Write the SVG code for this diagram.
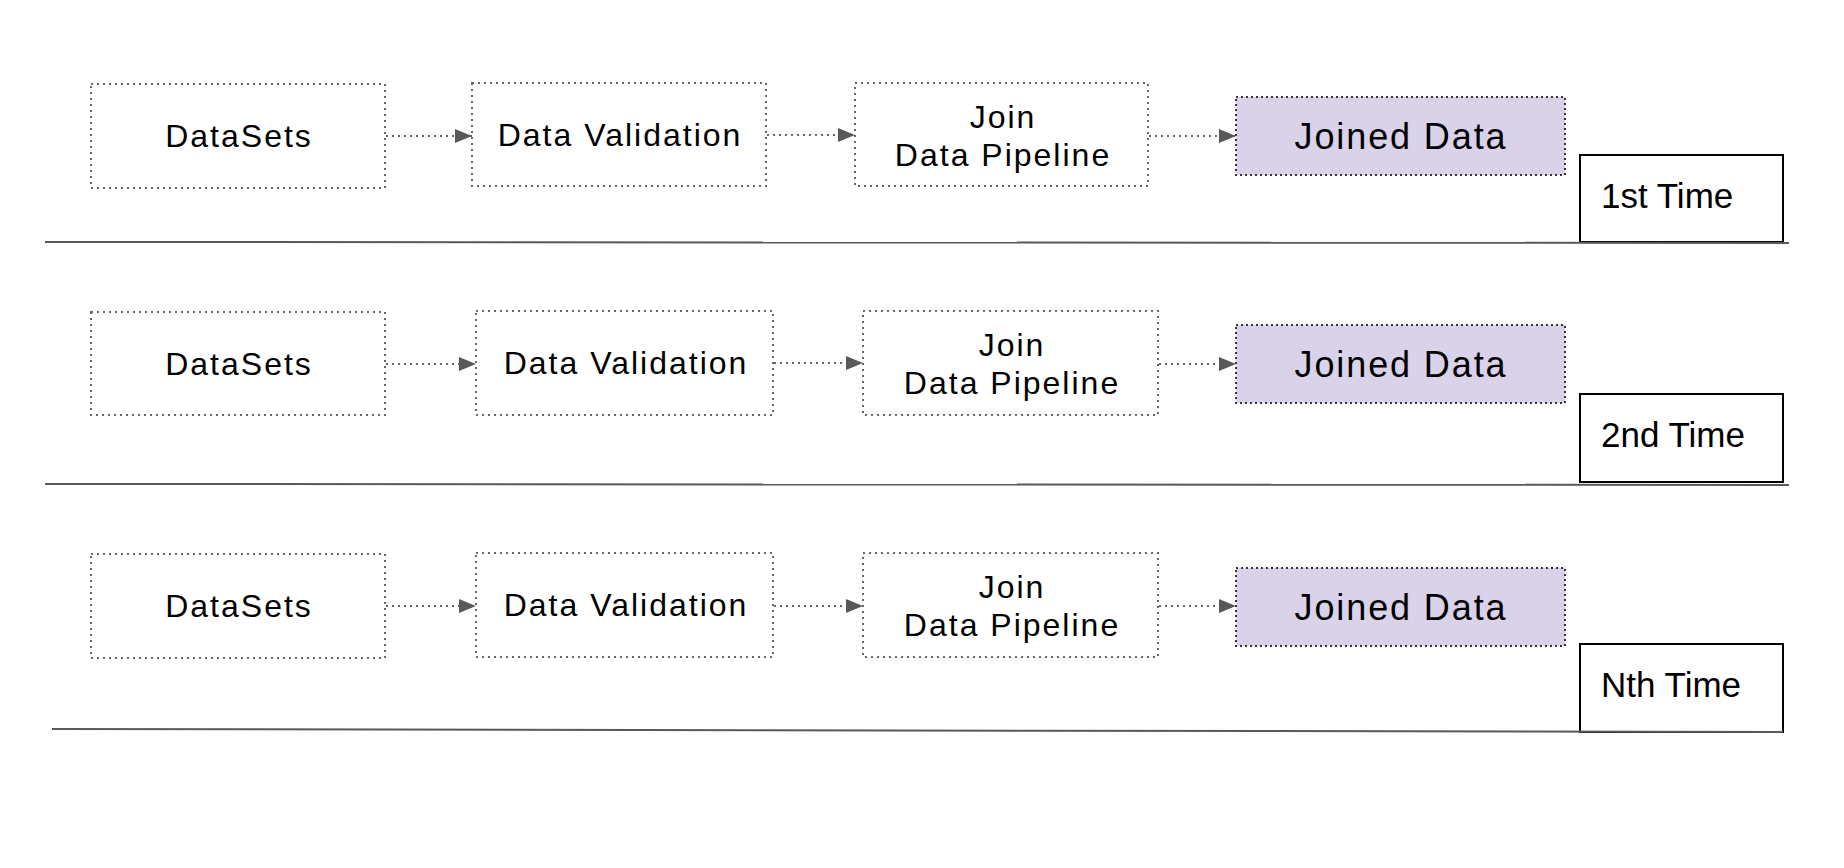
<svg xmlns="http://www.w3.org/2000/svg" width="1844" height="868" viewBox="0 0 1844 868">
<defs>
<style>
.box{fill:#ffffff;stroke:#666666;stroke-width:2;stroke-dasharray:2 4}
.joined{fill:#d9d2e9;stroke:#333333;stroke-width:2;stroke-dasharray:2 3}
.tbox{fill:#ffffff;stroke:#000000;stroke-width:2}
.t{font-family:"Liberation Sans",Arial,sans-serif;font-size:32px;letter-spacing:2px;fill:#000000;text-anchor:middle}
.tj{font-family:"Liberation Sans",Arial,sans-serif;font-size:36px;letter-spacing:1.9px;fill:#000000;text-anchor:middle}
.tt{font-family:"Liberation Sans",Arial,sans-serif;font-size:35px;fill:#000000}
.conn{stroke:#666666;stroke-width:2;stroke-dasharray:2 4;fill:none}
.sep{stroke:#595959;stroke-width:2;fill:none}
</style>
<marker id="ah" markerWidth="18" markerHeight="16" refX="17" refY="8" orient="auto" markerUnits="userSpaceOnUse">
<path d="M0,1 L17,8 L0,15 Z" fill="#595959"/>
</marker>
</defs>
<rect width="1844" height="868" fill="#ffffff"/>

<g id="row1">
<g id="datasets1"><rect class="box" x="91" y="84" width="294" height="104"/><text class="t" x="239" y="147">DataSets</text></g>
<g id="validation1"><rect class="box" x="472" y="83" width="294" height="103"/><text class="t" x="620" y="146">Data Validation</text></g>
<g id="pipeline1"><rect class="box" x="855" y="83" width="293" height="103"/><text class="t" y="128"><tspan x="1003">Join</tspan><tspan x="1003" dy="38">Data Pipeline</tspan></text></g>
<g id="joined1"><rect class="joined" x="1236" y="97" width="329" height="78"/><text class="tj" x="1401" y="149">Joined Data</text></g>
<g id="time1"><rect class="tbox" x="1580" y="155" width="203" height="87"/><text class="tt" x="1601" y="208">1st Time</text></g>
</g>

<g id="row2">
<g id="datasets2"><rect class="box" x="91" y="312" width="294" height="103"/><text class="t" x="239" y="375">DataSets</text></g>
<g id="validation2"><rect class="box" x="476" y="311" width="297" height="104"/><text class="t" x="626" y="374">Data Validation</text></g>
<g id="pipeline2"><rect class="box" x="863" y="311" width="295" height="104"/><text class="t" y="356"><tspan x="1012">Join</tspan><tspan x="1012" dy="38">Data Pipeline</tspan></text></g>
<g id="joined2"><rect class="joined" x="1236" y="325" width="329" height="78"/><text class="tj" x="1401" y="377">Joined Data</text></g>
<g id="time2"><rect class="tbox" x="1580" y="394" width="203" height="88"/><text class="tt" x="1601" y="447">2nd Time</text></g>
</g>

<g id="row3">
<g id="datasets3"><rect class="box" x="91" y="554" width="294" height="104"/><text class="t" x="239" y="617">DataSets</text></g>
<g id="validation3"><rect class="box" x="476" y="553" width="297" height="104"/><text class="t" x="626" y="616">Data Validation</text></g>
<g id="pipeline3"><rect class="box" x="863" y="553" width="295" height="104"/><text class="t" y="598"><tspan x="1012">Join</tspan><tspan x="1012" dy="38">Data Pipeline</tspan></text></g>
<g id="joined3"><rect class="joined" x="1236" y="568" width="329" height="78"/><text class="tj" x="1401" y="620">Joined Data</text></g>
<g id="time3"><rect class="tbox" x="1580" y="644" width="203" height="88"/><text class="tt" x="1601" y="697">Nth Time</text></g>
</g>

<g id="connectors">
<line class="conn" x1="386" y1="136" x2="472" y2="136" marker-end="url(#ah)"/>
<line class="conn" x1="767" y1="135" x2="855" y2="135" marker-end="url(#ah)"/>
<line class="conn" x1="1149" y1="136" x2="1236" y2="136" marker-end="url(#ah)"/>
<line class="conn" x1="386" y1="364" x2="476" y2="364" marker-end="url(#ah)"/>
<line class="conn" x1="774" y1="363" x2="863" y2="363" marker-end="url(#ah)"/>
<line class="conn" x1="1159" y1="364" x2="1236" y2="364" marker-end="url(#ah)"/>
<line class="conn" x1="386" y1="606" x2="476" y2="606" marker-end="url(#ah)"/>
<line class="conn" x1="774" y1="606" x2="863" y2="606" marker-end="url(#ah)"/>
<line class="conn" x1="1159" y1="606" x2="1236" y2="606" marker-end="url(#ah)"/>
</g>

<g id="separators">
<line class="sep" x1="45" y1="242" x2="1789" y2="243"/>
<line class="sep" x1="45" y1="484" x2="1789" y2="485"/>
<line class="sep" x1="52" y1="729" x2="1783" y2="732"/>
</g>
</svg>
